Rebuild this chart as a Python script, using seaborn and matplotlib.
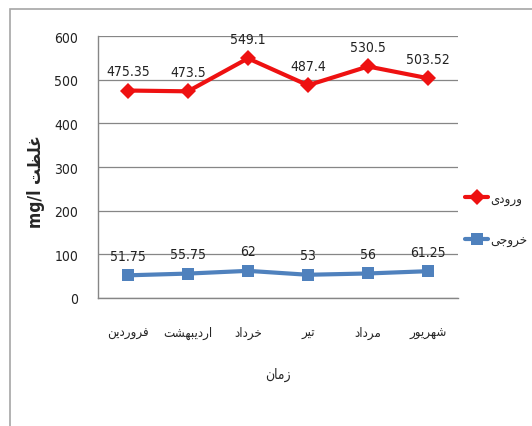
import matplotlib
matplotlib.use("Agg")
import matplotlib.pyplot as plt
import matplotlib.patches as mpatches
import numpy as np
import pandas as pd
import seaborn as sns

### Data
months = ["فروردین", "اردیبهشت", "خرداد", "تیر", "مرداد", "شهریور"]
inlet = [475.35, 473.5, 549.1, 487.4, 530.5, 503.52]
outlet = [51.75, 55.75, 62, 53, 56, 61.25]
inlet_labels = ["475.35", "473.5", "549.1", "487.4", "530.5", "503.52"]
outlet_labels = ["51.75", "55.75", "62", "53", "56", "61.25"]
series_names = ["ورودی", "خروجی"]
x_title = "زمان"
y_title = "غلظت"

# matplotlib does no arabic shaping, so pick presentation forms by hand
FORMS = {
    "ا": ("\uFE8D", "\uFE8E"), "د": ("\uFEA9", "\uFEAA"), "ر": ("\uFEAD", "\uFEAE"),
    "ز": ("\uFEAF", "\uFEB0"), "و": ("\uFEED", "\uFEEE"),
    "ب": ("\uFE8F", "\uFE90", "\uFE91", "\uFE92"), "ت": ("\uFE95", "\uFE96", "\uFE97", "\uFE98"),
    "ج": ("\uFE9D", "\uFE9E", "\uFE9F", "\uFEA0"), "خ": ("\uFEA5", "\uFEA6", "\uFEA7", "\uFEA8"),
    "ش": ("\uFEB5", "\uFEB6", "\uFEB7", "\uFEB8"), "ظ": ("\uFEC5", "\uFEC6", "\uFEC7", "\uFEC8"),
    "غ": ("\uFECD", "\uFECE", "\uFECF", "\uFED0"), "ف": ("\uFED1", "\uFED2", "\uFED3", "\uFED4"),
    "ل": ("\uFEDD", "\uFEDE", "\uFEDF", "\uFEE0"), "م": ("\uFEE1", "\uFEE2", "\uFEE3", "\uFEE4"),
    "ن": ("\uFEE5", "\uFEE6", "\uFEE7", "\uFEE8"), "ه": ("\uFEE9", "\uFEEA", "\uFEEB", "\uFEEC"),
    "ی": ("\uFBFC", "\uFBFD", "\uFBFE", "\uFBFF"),
}


def shape(word):
    out = []
    for i, ch in enumerate(word):
        f = FORMS.get(ch)
        if f is None:
            out.append(ch)
            continue
        prev = word[i - 1] if i > 0 else None
        nxt = word[i + 1] if i + 1 < len(word) else None
        join_prev = prev in FORMS and len(FORMS[prev]) == 4
        join_next = nxt in FORMS and len(f) == 4
        if join_prev and join_next:
            out.append(f[3])
        elif join_prev:
            out.append(f[1])
        elif join_next:
            out.append(f[2])
        else:
            out.append(f[0])
    return "".join(reversed(out))


sns.set_style("white")
plt.rcParams["font.family"] = ["DejaVu Sans"]
plt.rcParams["font.stretch"] = "condensed"

month_txt = [shape(m) for m in months]
name_in, name_out = shape(series_names[0]), shape(series_names[1])
df = pd.DataFrame({
    "month": month_txt * 2,
    "value": inlet + outlet,
    "series": [name_in] * 6 + [name_out] * 6,
})

fig = plt.figure(figsize=(5.32, 4.27), dpi=100)
ax = fig.add_axes([0.184, 0.30, 0.677, 0.613])

# outer chart frame (only top/left edges fall inside the picture)
fig.patches.append(mpatches.Rectangle((10 / 532, -0.2), 1.2, 1.2 - 10 / 427,
                                      transform=fig.transFigure, fill=False,
                                      edgecolor="#a6a6a6", linewidth=1.2))

pal = {name_in: "#ee1111", name_out: "#4f81bd"}
sns.lineplot(data=df, x="month", y="value", hue="series", style="series",
             markers={name_in: "D", name_out: "s"},
             dashes=False, palette=pal, linewidth=3, markersize=8,
             markeredgewidth=0, sort=False, ax=ax)

for i, (v, t) in enumerate(zip(inlet, inlet_labels)):
    ax.annotate(t, (i, v), xytext=(0, 9), textcoords="offset points",
                ha="center", va="bottom", fontsize=10, color="#222222")
for i, (v, t) in enumerate(zip(outlet, outlet_labels)):
    ax.annotate(t, (i, v), xytext=(0, 9), textcoords="offset points",
                ha="center", va="bottom", fontsize=10, color="#222222")

ax.set_xlim(-0.5, 5.5)
ax.set_ylim(0, 600)
ax.set_yticks(np.arange(0, 601, 100))
ax.set_xticks(range(6))
ax.set_xticklabels(month_txt, fontsize=9.5)
ax.set_xticks(np.arange(-0.5, 5.6, 1), minor=True)
ax.tick_params(axis="x", which="major", length=0, pad=20)
ax.tick_params(axis="x", which="minor", length=5, color="#868686", direction="out")
ax.tick_params(axis="y", length=5, color="#868686", direction="out", labelsize=10,
               labelcolor="#222222", pad=9)
ax.grid(axis="y", color="#868686", linewidth=0.9)
ax.set_axisbelow(True)
sns.despine(ax=ax, top=True, right=True)
for s in ["left", "bottom"]:
    ax.spines[s].set_color("#868686")
    ax.spines[s].set_linewidth(1)

ax.set_xlabel(shape(x_title), fontsize=10, labelpad=20)
ax.set_ylabel("mg/l " + shape(y_title), fontsize=12.5, fontweight="bold")
ax.yaxis.set_label_coords(-0.147, 0.447)

leg = ax.legend(loc="center left", bbox_to_anchor=(1.0, 0.30), frameon=False,
                markerfirst=True, handlelength=1.8, handletextpad=0.15,
                labelspacing=2.2, borderaxespad=0.1, prop={"size": 9.5})

fig.savefig("out.png", dpi=100)
